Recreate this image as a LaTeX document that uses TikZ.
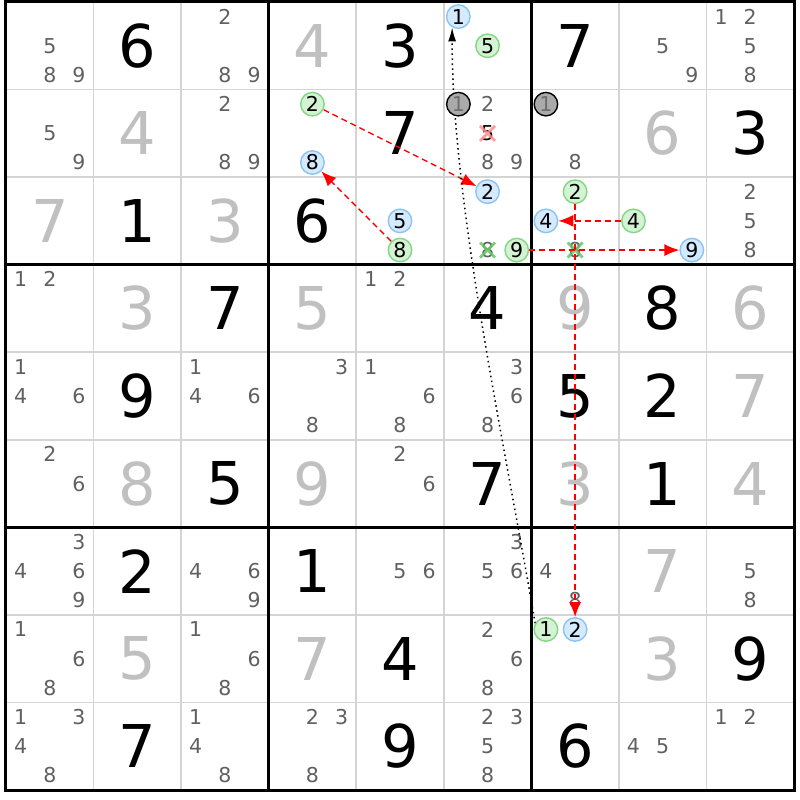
\documentclass[tikz,border=0pt]{standalone}
\usepackage{fontspec}
\setmainfont{DejaVu Sans}
\usetikzlibrary{arrows.meta}
\definecolor{solvedgray}{RGB}{192,192,192}
\definecolor{candgray}{RGB}{96,96,96}
\definecolor{gridgray}{RGB}{212,212,212}
\definecolor{bluefill}{RGB}{212,234,255}
\definecolor{blueline}{RGB}{140,195,245}
\definecolor{greenfill}{RGB}{212,242,212}
\definecolor{greenline}{RGB}{130,215,130}
\definecolor{grayfill}{RGB}{170,170,170}
\definecolor{graytext}{RGB}{110,110,110}
\definecolor{crossred}{RGB}{255,140,140}
\definecolor{crossgreen}{RGB}{100,200,100}
\pgfdeclarelayer{background}
\pgfdeclarelayer{foreground}
\pgfsetlayers{background,main,foreground}

\begin{document}
\begin{tikzpicture}[x=87.556pt,y=-87.556pt,
  thinline/.style={gridgray,line width=1.5pt},
  thickline/.style={black,line width=3pt},
  given/.style={font=\fontsize{59}{59}\selectfont,text=black,inner sep=0},
  solved/.style={given,text=solvedgray},
  cand/.style={font=\fontsize{20.5}{20.5}\selectfont,text=candgray,inner sep=0},
  bluecand/.style={cand,text=black,circle,draw=blueline,fill=bluefill,line width=1.4pt,minimum size=23.5pt},
  greencand/.style={bluecand,draw=greenline,fill=greenfill},
  graycand/.style={bluecand,draw=black,fill=grayfill,text=graytext},
  redx/.style={crossred,line width=2.8pt,opacity=0.85},
  greenx/.style={crossgreen,line width=2.8pt,opacity=0.85},
  link/.style={red,line width=1.4pt,dash pattern=on 6pt off 4pt,-{Latex[length=15pt,width=12pt]}},
  chain/.style={black,line width=1.5pt,dash pattern=on 1.5pt off 3.5pt,-{Latex[length=14pt,width=8pt]}}]
\begin{pgfonlayer}{background}
\useasboundingbox[fill=white] (-0.0685,-0.0228) rectangle (9.0685,9.1143);
% grid
\foreach \i in {1,2,4,5,7,8} {
  \draw[thinline] (\i,0) -- (\i,9);
  \draw[thinline] (0,\i) -- (9,\i);
}
\foreach \i in {3,6} {
  \draw[thickline] (\i,0) -- (\i,9);
  \draw[thickline] (0,\i) -- (9,\i);
}
\draw[thickline] (0,0) rectangle (9,9);
% givens and solved cells
\foreach \c/\r/\d in {2/1/6,5/1/3,7/1/7,5/2/7,9/2/3,2/3/1,4/3/6,3/4/7,6/4/4,8/4/8,
  2/5/9,7/5/5,8/5/2,3/6/5,6/6/7,8/6/1,2/7/2,4/7/1,5/8/4,9/8/9,2/9/7,5/9/9,7/9/6} {
  \node[given] (g\r\c) at (\c-0.5,\r-0.5) {\d};
}
\foreach \c/\r/\d in {4/1/4,2/2/4,8/2/6,1/3/7,3/3/3,2/4/3,4/4/5,7/4/9,9/4/6,9/5/7,
  2/6/8,4/6/9,7/6/3,9/6/4,8/7/7,2/8/5,4/8/7,8/8/3} {
  \node[solved] (s\r\c) at (\c-0.5,\r-0.5) {\d};
}
% candidates
\foreach \c/\r/\ds in {1/1/{5,8,9},3/1/{2,8,9},8/1/{5,9},9/1/{1,2,5,8},
  1/2/{5,9},3/2/{2,8,9},6/2/{2,8,9},7/2/{8},9/3/{2,5,8},
  1/4/{1,2},5/4/{1,2},1/5/{1,4,6},3/5/{1,4,6},4/5/{3,8},5/5/{1,6,8},6/5/{3,6,8},
  1/6/{2,6},5/6/{2,6},1/7/{3,4,6,9},3/7/{4,6,9},5/7/{5,6},6/7/{3,5,6},7/7/{4,8},9/7/{5,8},
  1/8/{1,6,8},3/8/{1,6,8},6/8/{2,6,8},
  1/9/{1,3,4,8},3/9/{1,4,8},4/9/{2,3,8},6/9/{2,3,5,8},8/9/{4,5},9/9/{1,2}} {
  \foreach \d in \ds {
    \pgfmathsetmacro\candx{\c-1+(2*mod(\d-1,3)+1)/6}
    \pgfmathsetmacro\candy{\r-1+(2*int((\d-1)/3)+1)/6}
    \node[cand] (p\r\c\d) at (\candx,\candy) {\d};
  }
}
% eliminated candidates
\foreach \c/\r/\d/\tc/\s in {6/2/5/black/redx,6/3/8/candgray/greenx,7/3/8/candgray/greenx} {
  \pgfmathsetmacro\candx{\c-1+(2*mod(\d-1,3)+1)/6}
  \pgfmathsetmacro\candy{\r-1+(2*int((\d-1)/3)+1)/6}
  \node[cand,text=\tc] (x\r\c\d) at (\candx,\candy) {\d};
  \draw[\s] ([shift={(-7.5pt,-7.5pt)}]x\r\c\d.center) -- ([shift={(7.5pt,7.5pt)}]x\r\c\d.center)
    ([shift={(-7.5pt,7.5pt)}]x\r\c\d.center) -- ([shift={(7.5pt,-7.5pt)}]x\r\c\d.center);
}
\end{pgfonlayer}
% marked candidates
\begin{pgfonlayer}{foreground}
\foreach \c/\r/\d/\s in {6/1/1/bluecand,6/1/5/greencand,4/2/2/greencand,4/2/8/bluecand,
  6/2/1/graycand,7/2/1/graycand,5/3/5/bluecand,5/3/8/greencand,6/3/2/bluecand,
  6/3/9/greencand,7/3/2/greencand,7/3/4/bluecand,8/3/4/greencand,8/3/9/bluecand,
  7/8/1/greencand,7/8/2/bluecand} {
  \pgfmathsetmacro\candx{\c-1+(2*mod(\d-1,3)+1)/6}
  \pgfmathsetmacro\candy{\r-1+(2*int((\d-1)/3)+1)/6}
  \node[\s] (n\r\c\d) at (\candx,\candy) {\d};
}
\end{pgfonlayer}
% links
\draw[link] (n242) -- (n362);
\draw[link] (n358) -- (n248);
\draw[link] (n369) -- (n389);
\draw[link] (n384) -- (n374);
\draw[link] (n372) -- (n872);
\draw[chain] (n871.150) .. controls (5.665,4.888) and (5.094,2.261) .. (n161.-120);
\end{tikzpicture}
\end{document}
